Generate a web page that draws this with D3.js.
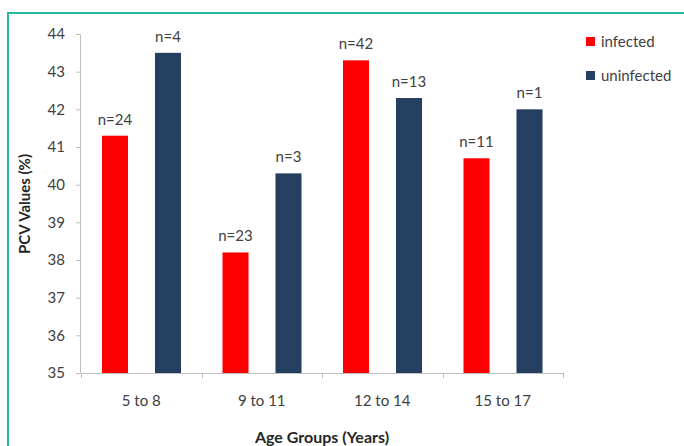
<!DOCTYPE html>
<html><head><meta charset="utf-8">
<script src="https://cdn.jsdelivr.net/npm/d3@7"></script>
<style>
html,body{margin:0;padding:0;background:#fff;}
svg{display:block;font-family:Lato,"Open Sans",sans-serif;}
</style></head>
<body>
<svg id="c" width="684" height="446"></svg>
<script>
const categories = ["5 to 8", "9 to 11", "12 to 14", "15 to 17"];
const seriesNames = ["infected", "uninfected"];
const infected = [41.3, 38.2, 43.3, 40.7];
const uninfected = [43.5, 40.3, 42.3, 42.0];
const infectedN = ["n=24", "n=23", "n=42", "n=11"];
const uninfectedN = ["n=4", "n=3", "n=13", "n=1"];
const yTicks = [35, 36, 37, 38, 39, 40, 41, 42, 43, 44];
const colors = ["#ff0000", "#243f60"];

const svg = d3.select("#c");
// frame
svg.append("path").attr("d", "M8,446 V13 H684").attr("fill", "none")
  .attr("stroke", "#22b89c").attr("stroke-width", 2);

const x0 = d3.scaleBand().domain(categories).range([81, 563]);
const x1 = d3.scaleBand().domain(seriesNames).range([21, 100]).paddingInner(0.509);
const y = d3.scaleLinear().domain([35, 44]).range([373, 34]);

const rows = categories.map((c, i) => ({
  cat: c,
  vals: [
    {s: "infected", v: infected[i], n: infectedN[i], c: colors[0]},
    {s: "uninfected", v: uninfected[i], n: uninfectedN[i], c: colors[1]}
  ]
}));

// y axis
const yAxis = svg.append("g").attr("transform", "translate(80,0)")
  .call(d3.axisLeft(y).tickValues(yTicks).tickSize(4).tickPadding(11).tickFormat(d3.format("d")));
yAxis.select(".domain").attr("stroke", "#bfbfbf").attr("d", "M-4,34.5H0.5V373.5");
yAxis.selectAll(".tick line").attr("stroke", "#bfbfbf");
yAxis.selectAll("text").attr("fill", "#404040").style("font-size", "15px").style("font-family", "Lato,sans-serif");

// x axis
const xAxis = svg.append("g").attr("transform", "translate(0,373)")
  .call(d3.axisBottom(x0).tickSize(0).tickPadding(22));
xAxis.select(".domain").attr("stroke", "#bfbfbf");
xAxis.selectAll("text").attr("fill", "#404040").style("font-size", "15px").style("font-family", "Lato,sans-serif");
// category boundary ticks
const bounds = categories.map(c => x0(c)).concat([x0.range()[1]]);
svg.append("g").selectAll("line").data(bounds).join("line")
  .attr("x1", d => Math.round(d) + 0.5).attr("x2", d => Math.round(d) + 0.5)
  .attr("y1", 373).attr("y2", 378).attr("stroke", "#bfbfbf");

// bars
const g = svg.append("g").selectAll("g").data(rows).join("g")
  .attr("transform", d => `translate(${x0(d.cat)},0)`);
g.selectAll("rect").data(d => d.vals).join("rect")
  .attr("x", d => x1(d.s)).attr("width", x1.bandwidth())
  .attr("y", d => y(d.v)).attr("height", d => y(35) - y(d.v))
  .attr("fill", d => d.c);
g.selectAll("text").data(d => d.vals).join("text")
  .attr("x", d => x1(d.s) + x1.bandwidth() / 2)
  .attr("y", d => y(d.v) - 11)
  .attr("text-anchor", "middle").attr("fill", "#404040")
  .style("font-size", "15px").text(d => d.n);

// axis titles
svg.append("text").attr("transform", "translate(30,204) rotate(-90)")
  .attr("text-anchor", "middle").attr("fill", "#262626")
  .style("font-size", "15px").style("font-weight", "bold").text("PCV Values (%)");
svg.append("text").attr("x", 322).attr("y", 443)
  .attr("text-anchor", "middle").attr("fill", "#262626")
  .style("font-size", "16px").style("font-weight", "bold").text("Age Groups (Years)");

// legend
const leg = svg.append("g").selectAll("g").data(seriesNames).join("g")
  .attr("transform", (d, i) => `translate(586,${37 + i * 34})`);
leg.append("rect").attr("width", 9).attr("height", 9).attr("fill", (d, i) => colors[i]);
leg.append("text").attr("x", 15).attr("y", 10).attr("fill", "#404040")
  .style("font-size", "15px").text(d => d);
</script>
</body></html>
